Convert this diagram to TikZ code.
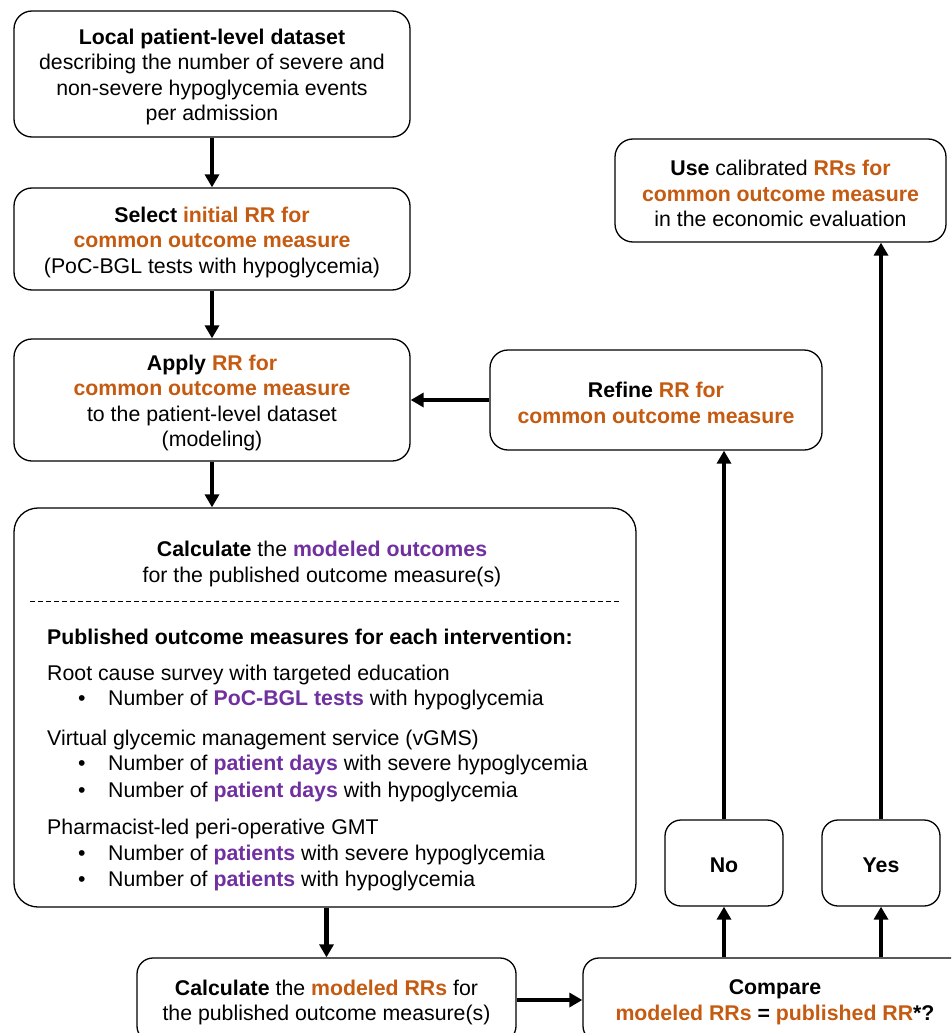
\documentclass[tikz,border=0pt]{standalone}
\usepackage{fontspec}
\setmainfont{Liberation Sans}
\usetikzlibrary{arrows.meta,calc}
\definecolor{orng}{RGB}{197,90,17}
\definecolor{purp}{RGB}{112,48,160}
\newcommand{\ob}[1]{\textbf{\textcolor{orng}{#1}}}
\newcommand{\pb}[1]{\textbf{\textcolor{purp}{#1}}}
\tikzset{
  box/.style={draw, line width=1.3pt, rounded corners=18pt, inner sep=0pt},
  lbl/.style={inner sep=0pt, align=center, yshift=-3pt, font=\fontsize{21.3}{25.5}\selectfont},
  arr/.style={line width=4.2pt, -{Triangle[length=13pt,width=14pt]}},
  txt/.style={anchor=base west, inner sep=0pt, font=\fontsize{21.3}{25.5}\selectfont},
  ctxt/.style={anchor=base, inner sep=0pt, font=\fontsize{21.3}{25.5}\selectfont},
}
\begin{document}
\begin{tikzpicture}[x=1pt,y=-1pt]
\path[use as bounding box] (0,0) rectangle (951,1033);
\clip (0,0) rectangle (951,1033);
\node[box, minimum width=396pt, minimum height=126pt] (local) at (212,74) {};
\node[lbl] (localt) at (local.center)
  {\textbf{Local patient-level dataset}\\describing the number of severe and\\non-severe hypoglycemia events\\per admission};
\node[box, minimum width=396pt, minimum height=102pt] (select) at (212,239) {};
\node[lbl] (selectt) at (select.center)
  {\textbf{Select} \ob{initial RR for}\\\ob{common outcome measure}\\(PoC-BGL tests with hypoglycemia)};
\node[box, minimum width=396pt, minimum height=122pt] (apply) at (212,400) {};
\node[lbl] (applyt) at (apply.center)
  {\textbf{Apply} \ob{RR for}\\\ob{common outcome measure}\\to the patient-level dataset\\(modeling)};
\node[box, minimum width=332pt, minimum height=100pt] (refine) at (656,400) {};
\node[lbl] (refinet) at (refine.center)
  {\textbf{Refine} \ob{RR for}\\\ob{common outcome measure}};
\node[box, minimum width=331pt, minimum height=103pt] (use) at (780.5,190.5) {};
\node[lbl] (uset) at (use.center)
  {\textbf{Use} calibrated \ob{RRs for}\\\ob{common outcome measure}\\in the economic evaluation};
\node[box, rounded corners=24pt, minimum width=622pt, minimum height=399pt] (big) at (325,707.5) {};
\node[ctxt] (b1) at (322,556) {\textbf{Calculate} the \pb{modeled outcomes}};
\node[ctxt] (b2) at (322,582) {for the published outcome measure(s)};
\draw[dashed, line width=0.8pt, dash pattern=on 5pt off 3pt] (30,601) -- (620,601);
\node[txt] (p0) at (47,644) {\textbf{Published outcome measures for each intervention:}};
\node[txt] (p1) at (47,680) {Root cause survey with targeted education};
\node[txt] (p1a) at (78,705) {•};
\node[txt] (p1b) at (108,705) {Number of \pb{PoC-BGL tests} with hypoglycemia};
\node[txt] (p2) at (47,745) {Virtual glycemic management service (vGMS)};
\node[txt] (p2a) at (78,770) {•};
\node[txt] (p2b) at (108,770) {Number of \pb{patient days} with severe hypoglycemia};
\node[txt] (p2c) at (78,797) {•};
\node[txt] (p2d) at (108,797) {Number of \pb{patient days} with hypoglycemia};
\node[txt] (p3) at (47,834) {Pharmacist-led peri-operative GMT};
\node[txt] (p3a) at (78,860) {•};
\node[txt] (p3b) at (108,860) {Number of \pb{patients} with severe hypoglycemia};
\node[txt] (p3c) at (78,886) {•};
\node[txt] (p3d) at (108,886) {Number of \pb{patients} with hypoglycemia};
\node[box, rounded corners=16pt, minimum width=118pt, minimum height=86pt] (no) at (724,863) {};
\node[lbl, yshift=1pt] (not) at (no.center) {\textbf{No}};
\node[box, rounded corners=16pt, minimum width=118pt, minimum height=86pt] (yes) at (881,863) {};
\node[lbl, yshift=1pt] (yest) at (yes.center) {\textbf{Yes}};
\node[box, rounded corners=16pt, minimum width=379pt, minimum height=84pt] (calc) at (326.5,1000) {};
\node[lbl] (calct) at (326.5,999.5)
  {\textbf{Calculate} the \ob{modeled RRs} for\\the published outcome measure(s)};
\node[box, rounded corners=16pt, minimum width=384pt, minimum height=84pt] (comp) at (775,1000) {};
\node[lbl] (compt) at (775,999.5)
  {\textbf{Compare}\\\ob{modeled RRs} \textbf{=} \ob{published RR}\textbf{*?}};
\draw[arr] (local.south) -- (select.north);
\draw[arr] (select.south) -- (apply.north);
\draw[arr] (apply.south) -- (apply.south |- big.north);
\draw[arr] (refine.west) -- (refine.west -| apply.east);
\draw[arr] (big.south -| calc.north) -- (calc.north);
\draw[arr] (calc.east) -- (calc.east -| comp.west);
\draw[arr] (comp.north -| no.south) -- (no.south);
\draw[arr] (comp.north -| yes.south) -- (yes.south);
\draw[arr] (no.north) -- (no.north |- refine.south);
\draw[arr] (yes.north) -- (yes.north |- use.south);
\end{tikzpicture}
\end{document}
